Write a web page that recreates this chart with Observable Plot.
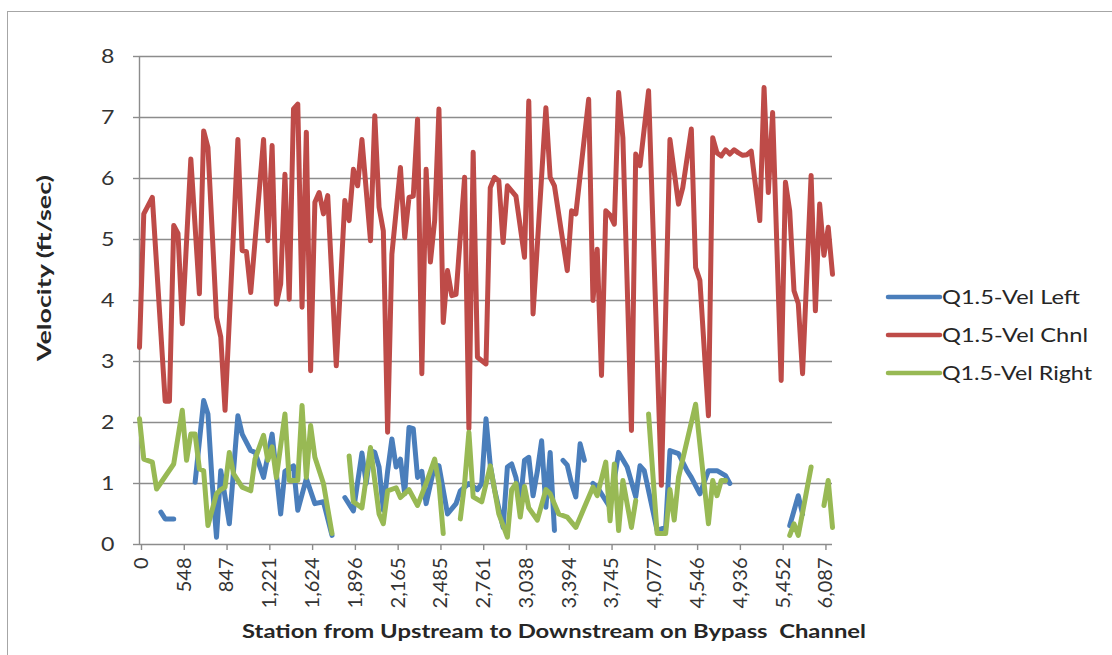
<!DOCTYPE html>
<html><head><meta charset="utf-8">
<script src="https://cdn.jsdelivr.net/npm/d3@7"></script>
<script src="https://cdn.jsdelivr.net/npm/@observablehq/plot@0.6"></script>
<style>
html,body{margin:0;padding:0;background:#fff;overflow:hidden;width:1112px;height:655px;}
#frame{position:absolute;left:7px;top:11px;width:1200px;height:700px;border:1px solid #a6a6a6;}
#chart{position:absolute;left:0;top:0;}
</style></head><body>
<div id="frame"></div>
<div id="chart"></div>
<script>
// ---- data ----
const stationLabels = ["0","548","847","1,221","1,624","1,896","2,165","2,485","2,761","3,038","3,394","3,745","4,077","4,546","4,936","5,452","6,087"];
const labelStep = 10;       // one station label every 10 stations
const lastIndex = 162;      // index of the last station
const yTicks = [0,1,2,3,4,5,6,7,8];
const seriesNames = ["Q1.5-Vel Left","Q1.5-Vel Chnl","Q1.5-Vel Right"];
const seriesColors = ["#4a7ebb","#be4b48","#98b954"];
const xTitle = "Station from Upstream to Downstream on Bypass  Channel";
const yTitle = "Velocity (ft/sec)";

// [station index, velocity]; null = no data
const velLeft = [[5,0.53],[6,0.42],[8,0.42],[9,null],
[13,1.02],[15,2.36],[16,2.14],[17,1.0],[18,0.12],[19,1.21],[20,0.78],[21,0.34],[23,2.11],[24,1.81],[26,1.54],[27,1.51],[29,1.10],[31,1.81],[33,0.50],[34,1.2],[36,1.29],[37,0.56],[39,1.08],[41,0.67],[43,0.7],[45,0.15],[46,null],
[48,0.77],[50,0.55],[52,1.5],[53,1.0],[54,1.54],[55,1.51],[56,1.27],[57,0.56],[58,1.2],[59,1.73],[60,1.27],[61,1.4],[62,0.83],[63,1.92],[64,1.9],[65,1.10],[66,1.2],[67,0.67],[69,1.3],[70,1.29],[72,0.5],[74,0.67],[75,0.88],[77,1.0],[79,0.9],[80,1.0],[81,2.06],[82,1.3],[83,0.9],[85,0.28],[86,1.27],[87,1.32],[88,1.1],[89,0.67],[90,1.38],[91,1.43],[92,0.8],[93,1.2],[94,1.70],[95,0.61],[96,1.51],[97,0.23],[98,null],
[99,1.38],[100,1.3],[101,1.0],[102,0.78],[103,1.65],[104,1.38],[105,null],
[106,1.0],[107,0.94],[110,0.61],[112,1.51],[114,1.27],[116,0.78],[117,1.29],[118,1.21],[121,0.23],[123,0.28],[124,1.54],[126,1.49],[128,1.21],[129,1.1],[131,0.83],[133,1.21],[135,1.21],[137,1.13],[138,1.0],[139,null],
[152,0.31],[154,0.8],[155,0.5]];

const velChnl = [[0,3.23],[1,5.42],[3,5.69],[6,2.35],[7,2.35],[8,5.23],[9,5.1],[10,3.62],[12,6.32],[14,4.11],[15,6.78],[16,6.51],[18,3.72],[19,3.4],[20,2.2],[23,6.64],[24,4.82],[25,4.8],[26,4.13],[29,6.64],[30,4.98],[31,6.54],[32,3.94],[33,4.27],[34,6.07],[35,4.02],[36,7.14],[37,7.22],[38,3.89],[39,6.76],[40,2.85],[41,5.61],[42,5.77],[43,5.42],[44,5.72],[46,2.93],[48,5.64],[49,5.31],[50,6.15],[51,5.88],[52,6.64],[54,4.98],[55,7.03],[56,5.53],[57,5.14],[58,1.84],[59,4.76],[61,6.18],[62,5.03],[63,5.69],[64,5.71],[65,6.97],[66,2.8],[67,6.15],[68,4.63],[69,5.31],[70,7.14],[71,3.64],[72,4.49],[73,4.08],[74,4.1],[76,6.02],[77,1.9],[78,6.43],[79,3.07],[81,2.96],[82,5.85],[83,6.02],[84,5.96],[85,4.95],[86,5.88],[88,5.71],[90,4.71],[91,7.27],[92,3.78],[95,7.16],[96,6.02],[97,5.88],[100,4.49],[101,5.47],[102,5.42],[105,7.3],[106,4.0],[107,4.84],[108,2.77],[109,5.47],[110,5.4],[111,5.25],[112,7.41],[113,6.67],[115,1.87],[116,6.4],[117,6.21],[119,7.44],[122,0.97],[124,6.64],[126,5.58],[127,5.85],[129,6.81],[130,4.54],[131,4.33],[133,2.11],[134,6.67],[135,6.42],[136,6.37],[137,6.47],[138,6.4],[139,6.47],[140,6.42],[141,6.38],[142,6.39],[143,6.45],[145,5.31],[146,7.49],[147,5.77],[148,7.08],[150,2.69],[151,5.94],[152,5.47],[153,4.16],[154,3.95],[155,2.8],[157,6.05],[158,3.83],[159,5.58],[160,4.74],[161,5.2],[162,4.43]];

const velRight = [[0,2.06],[1,1.40],[3,1.35],[4,0.91],[8,1.32],[10,2.2],[11,1.38],[12,1.81],[13,1.81],[14,1.24],[15,1.21],[16,0.31],[18,0.83],[19,0.9],[20,0.94],[21,1.51],[22,1.16],[24,0.94],[26,0.88],[27,1.40],[29,1.79],[30,1.38],[31,1.6],[32,1.10],[34,2.14],[35,1.05],[37,1.05],[38,2.28],[39,1.10],[40,1.95],[41,1.43],[43,1.0],[45,0.18],[46,null],
[49,1.45],[50,0.7],[52,0.6],[54,1.59],[56,0.5],[57,0.34],[58,0.88],[60,0.93],[61,0.77],[63,0.9],[65,0.64],[67,1.0],[69,1.40],[70,1.0],[71,0.18],[72,null],
[75,0.42],[76,1.0],[77,1.84],[78,0.78],[80,0.7],[82,1.29],[84,0.5],[86,0.12],[87,0.9],[88,1.0],[89,0.45],[90,0.95],[91,0.6],[93,0.4],[95,0.9],[96,0.83],[98,0.5],[100,0.45],[102,0.28],[104,0.61],[106,0.94],[107,0.8],[109,1.35],[110,0.39],[111,1.32],[112,0.23],[113,1.05],[115,0.28],[116,0.72],[117,null],
[119,2.14],[121,0.18],[123,0.18],[124,0.9],[125,0.4],[126,1.1],[130,2.3],[133,0.34],[134,1.05],[135,0.8],[136,1.05],[137,1.05],[138,null],
[152,0.15],[153,0.34],[154,0.15],[157,1.27],[158,null],[160,0.64],[161,1.05],[162,0.28]];

// ---- build ----
const rows = [];
[velLeft, velChnl, velRight].forEach((arr, k) =>
  arr.forEach(([i, v]) => rows.push({i, v: v == null ? NaN : v, s: seriesNames[k]})));
const tickIdx = stationLabels.map((_, k) => k * labelStep);
const font = "Lato, 'Open Sans', sans-serif";
const ink = "#333333";
const gridColor = "#8c8c8c";

const plot = Plot.plot({
  width: 1112, height: 655,
  marginLeft: 139, marginRight: 280, marginTop: 56, marginBottom: 111,
  style: {fontFamily: font, fontSize: "20px", color: ink, background: "transparent", overflow: "visible"},
  x: {domain: [0, lastIndex]},
  y: {domain: [0, 8]},
  color: {domain: seriesNames, range: seriesColors},
  marks: [
    Plot.ruleY(yTicks.slice(1), {stroke: gridColor, strokeWidth: 1.4}),
    Plot.axisY({ticks: yTicks, tickSize: 6, tickPadding: 19, stroke: gridColor, strokeWidth: 1.4, label: null, fill: ink, fontSize: 19}),
    Plot.axisX({ticks: tickIdx, tickFormat: i => stationLabels[i / labelStep], tickRotate: -90, tickSize: 6, tickPadding: 7, stroke: gridColor, strokeWidth: 1.4, label: null, fill: ink, fontSize: 20, dx: 2}),
    Plot.ruleX([0], {stroke: gridColor, strokeWidth: 1.4}),
    Plot.ruleY([0], {stroke: gridColor, strokeWidth: 1.4}),
    Plot.line(rows, {x: "i", y: "v", z: "s", stroke: "s", strokeWidth: 5, strokeLinejoin: "round", strokeLinecap: "round"})
  ]
});
document.getElementById("chart").appendChild(plot);

const svg = d3.select(plot);
// widen y tick labels slightly (reference glyphs are broad)
svg.selectAll("g[aria-label='y-axis tick label'] text").each(function() {
  const w = this.getComputedTextLength();
  d3.select(this).attr("textLength", w * 1.22).attr("lengthAdjust", "spacingAndGlyphs");
});
// axis titles
svg.append("text").attr("x", 242).attr("y", 638).attr("text-anchor", "start")
  .attr("font-family", font).attr("font-weight", "bold").attr("font-size", 19).attr("fill", "#262626")
  .attr("textLength", 624).attr("lengthAdjust", "spacingAndGlyphs")
  .text(xTitle);
svg.append("text").attr("transform", "translate(51,268) rotate(-90)").attr("text-anchor", "middle")
  .attr("font-family", font).attr("font-weight", "bold").attr("font-size", 19).attr("fill", "#262626")
  .attr("textLength", 186).attr("lengthAdjust", "spacingAndGlyphs")
  .text(yTitle);
// legend
const legendWidths = [138, 146, 150];
const lg = svg.append("g").attr("text-anchor", "start");
seriesNames.forEach((name, k) => {
  const y = 297 + k * 38;
  lg.append("line").attr("x1", 888).attr("x2", 940).attr("y1", y).attr("y2", y)
    .attr("stroke", seriesColors[k]).attr("stroke-width", 4.5).attr("stroke-linecap", "round");
  lg.append("text").attr("x", 942).attr("y", y + 7).attr("font-family", font).attr("font-size", 19)
    .attr("fill", "#262626").attr("textLength", legendWidths[k]).attr("lengthAdjust", "spacingAndGlyphs").text(name);
});
</script>
</body></html>
